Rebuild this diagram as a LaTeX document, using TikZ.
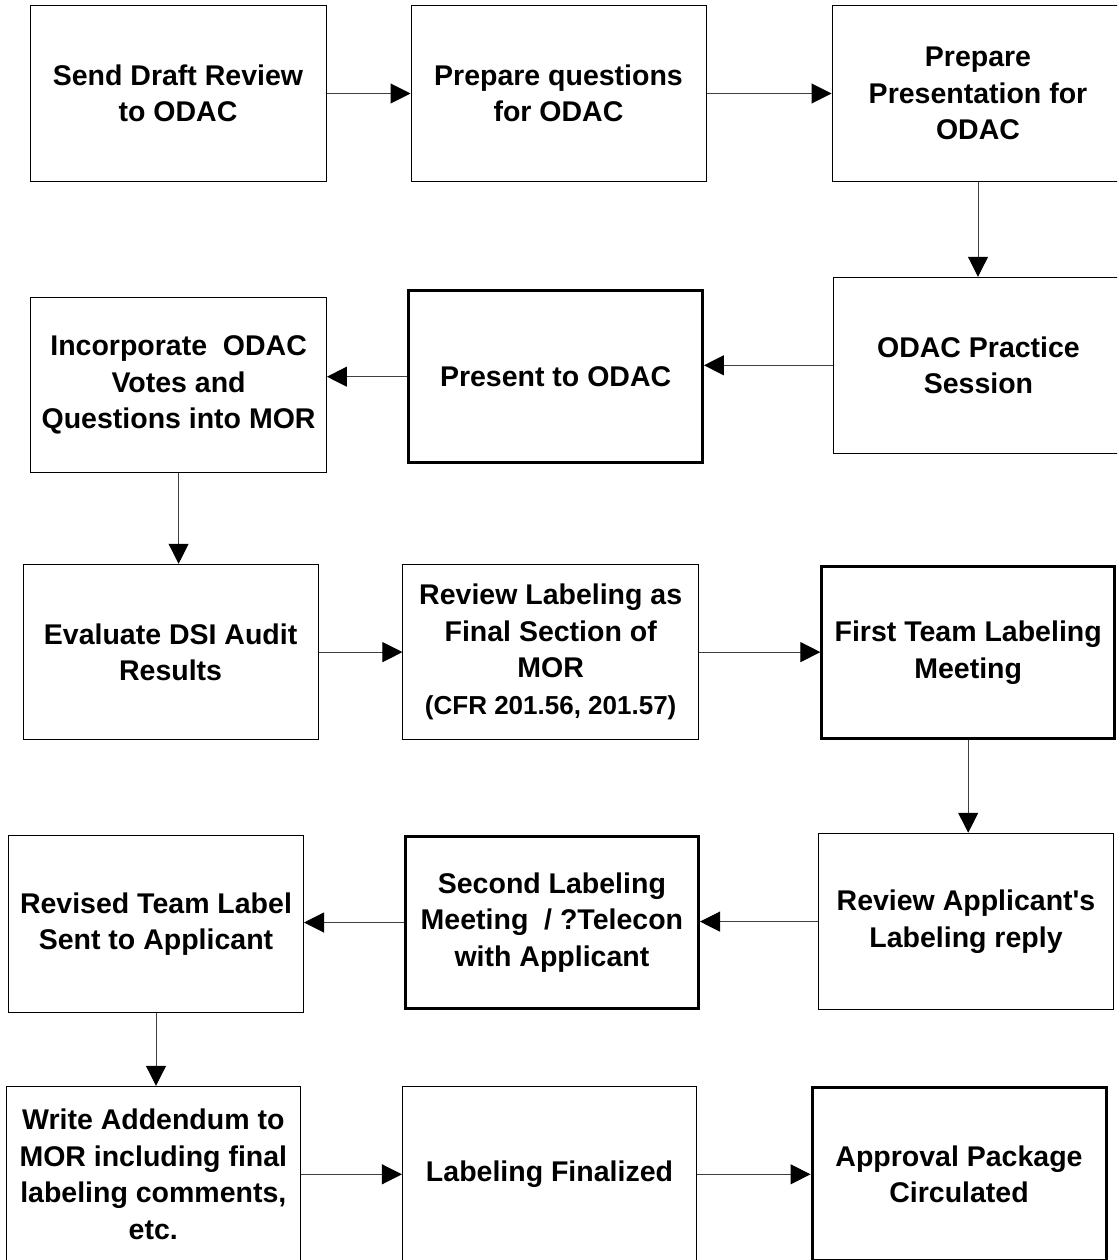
\documentclass[tikz,border=0pt]{standalone}
\usepackage{fontspec}
\setmainfont{Liberation Sans}[Ligatures=TeXOff]
\usetikzlibrary{arrows.meta}
\begin{document}
\begin{tikzpicture}[x=1pt,y=-1pt,
  stepbox/.style={draw=black, line width=1pt, fill=white, inner sep=0pt, align=center,
    font=\fontsize{28.5}{36.5}\selectfont\bfseries},
  keybox/.style={stepbox, line width=3pt},
  sz/.style 2 args={minimum width=#1pt, minimum height=#2pt},
  flow/.style={draw=black!75, line width=1pt,
    -{Triangle[length=20pt,width=20pt,color=black,fill=black]}}]
\useasboundingbox (0,0) rectangle (1117,1260);
\clip (0,0) rectangle (1117,1260);

% row 1
\node[stepbox, sz={296}{175.6}] (A) at (178,93.5) {Send Draft Review\\to ODAC};
\node[stepbox, sz={295}{175.6}] (B) at (558.5,93.5) {Prepare questions\\for ODAC};
\node[stepbox, sz={292}{175.6}] (C) at (978,93.5) {Prepare\\Presentation for\\ODAC};

% row 2
\node[stepbox, sz={291}{176}] (D) at (978.5,365.3) {ODAC Practice\\Session};
\node[keybox, sz={293.7}{172.5}] (E) at (555.6,376.7) {Present to ODAC};
\node[stepbox, sz={295.7}{175.7}] (F) at (178.6,385.1) {Incorporate\ \ ODAC\\Votes and\\Questions into MOR};

% row 3
\node[stepbox, sz={294.8}{175.7}] (G) at (170.6,652.1) {Evaluate DSI Audit\\Results};
\node[stepbox, sz={295.5}{175.7}] (H) at (550.7,652.1)
  {Review Labeling as\\Final Section of\\MOR\\{\fontsize{26}{38}\selectfont(CFR 201.56, 201.57)}};
\node[keybox, sz={292.6}{172}] (I) at (968.2,652.5) {First Team Labeling\\Meeting};

% row 4
\node[stepbox, sz={295}{176.7}] (J) at (966,921.6) {Review Applicant's\\Labeling reply};
\node[keybox, sz={293.2}{172}] (K) at (551.9,922.5) {Second Labeling\\Meeting\ \ / ?Telecon\\with Applicant};
\node[stepbox, sz={295}{176.3}] (L) at (156,924.1) {Revised Team Label\\Sent to Applicant};

% row 5 (runs past the lower edge)
\node[stepbox, sz={294.6}{176}] (M) at (153.3,1174.3) {Write Addendum to\\MOR including final\\labeling comments,\\etc.};
\node[stepbox, sz={294.2}{175}] (N) at (549.5,1174.3) {Labeling Finalized};
\node[keybox, sz={294}{173}] (O) at (959,1174.3) {Approval Package\\Circulated};

% connectors
\draw[flow] (A.east) -- (A.east -| B.west);
\draw[flow] (B.east) -- (B.east -| C.west);
\draw[flow] (C.south) -- (C.south |- D.north);
\draw[flow] (D.west) -- (D.west -| E.east);
\draw[flow] (E.west) -- (E.west -| F.east);
\draw[flow] (F.south) -- (F.south |- G.north);
\draw[flow] (G.east) -- (G.east -| H.west);
\draw[flow] (H.east) -- (H.east -| I.west);
\draw[flow] (I.south) -- (I.south |- J.north);
\draw[flow] (J.west) -- (J.west -| K.east);
\draw[flow] (K.west) -- (K.west -| L.east);
\draw[flow] (L.south) -- (L.south |- M.north);
\draw[flow] (M.east) -- (M.east -| N.west);
\draw[flow] (N.east) -- (N.east -| O.west);
\end{tikzpicture}
\end{document}
